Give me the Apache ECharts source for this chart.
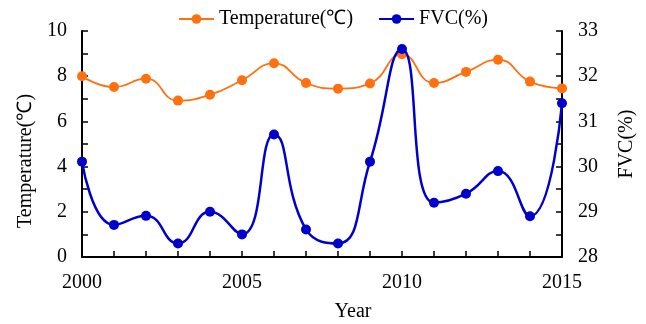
<!DOCTYPE html>
<html>
<head>
<meta charset="utf-8">
<script src="https://cdn.jsdelivr.net/npm/echarts@6/dist/echarts.min.js"></script>
<style>
  html, body { margin: 0; padding: 0; background: #fff; }
  #chart { width: 646px; height: 324px; }
</style>
</head>
<body>
<div id="chart"></div>
<script>
// Annual temperature and fractional vegetation cover, 2000–2015
const years = ['2000','2001','2002','2003','2004','2005','2006','2007',
               '2008','2009','2010','2011','2012','2013','2014','2015'];
const temperature = [8.0, 7.52, 7.89, 6.92, 7.18, 7.82, 8.57, 7.70,
                     7.45, 7.68, 8.97, 7.70, 8.19, 8.73, 7.76, 7.46];
const fvc = [30.11, 28.71, 28.91, 28.30, 29.0, 28.5, 30.71, 28.61,
             28.30, 30.11, 32.6, 29.2, 29.4, 29.9, 28.9, 31.4];

const FONT = 'Liberation Serif';
const FS = 20;
const ORANGE = '#FF7010';
const BLUE = '#0000CD';

const axisLineStyle = { lineStyle: { color: '#000', width: 2 } };
const tickStyle = { inside: true, length: 6, lineStyle: { color: '#000', width: 1.5 } };
const minorTickStyle = { show: true, splitNumber: 2, length: 6, lineStyle: { color: '#000', width: 1.5 } };
const labelStyle = { fontFamily: FONT, fontSize: FS, color: '#000' };

const chart = echarts.init(document.getElementById('chart'), null, { renderer: 'canvas' });
chart.setOption({
  animation: false,
  backgroundColor: '#fff',
  textStyle: { fontFamily: FONT },
  legend: {
    left: 178, top: 9, padding: 0,
    itemWidth: 35, itemHeight: 12, itemGap: 25,
    textStyle: { fontFamily: FONT, fontSize: FS, color: '#000' },
    data: ['Temperature(℃)', 'FVC(%)']
  },
  grid: { left: 82, right: 84, top: 31, bottom: 67, containLabel: false, outerBoundsMode: 'none' },
  xAxis: {
    type: 'category',
    data: years,
    boundaryGap: false,
    name: 'Year',
    nameLocation: 'middle',
    nameGap: 45,
    nameTextStyle: { fontFamily: FONT, fontSize: FS, color: '#000', padding: [0, 0, 0, 62] },
    axisLine: axisLineStyle,
    axisTick: Object.assign({ interval: 0, alignWithLabel: true }, tickStyle),
    axisLabel: Object.assign({ interval: 4, margin: 16 }, labelStyle),
    splitLine: { show: false }
  },
  yAxis: [
    {
      type: 'value', min: 0, max: 10, interval: 2,
      name: 'Temperature(℃)',
      nameLocation: 'middle', nameRotate: 90, nameGap: 46,
      nameTextStyle: { fontFamily: FONT, fontSize: FS, color: '#000', padding: [0, 34, 0, 0] },
      axisLine: Object.assign({ show: true }, axisLineStyle),
      axisTick: Object.assign({ show: true }, tickStyle),
      minorTick: minorTickStyle,
      axisLabel: Object.assign({ margin: 15 }, labelStyle),
      splitLine: { show: false }
    },
    {
      type: 'value', min: 28, max: 33, interval: 1,
      name: 'FVC(%)',
      nameLocation: 'middle', nameRotate: 90, nameGap: 55,
      nameTextStyle: { fontFamily: FONT, fontSize: FS, color: '#000' },
      position: 'right',
      axisLine: Object.assign({ show: true }, axisLineStyle),
      axisTick: Object.assign({ show: true }, tickStyle),
      minorTick: minorTickStyle,
      axisLabel: Object.assign({ margin: 16 }, labelStyle),
      splitLine: { show: false }
    }
  ],
  series: [
    {
      name: 'Temperature(℃)',
      type: 'line',
      yAxisIndex: 0,
      data: temperature,
      smooth: 0.5,
      symbol: 'circle',
      symbolSize: 10,
      lineStyle: { color: ORANGE, width: 1.8 },
      itemStyle: { color: ORANGE },
      z: 2
    },
    {
      name: 'FVC(%)',
      type: 'line',
      yAxisIndex: 1,
      data: fvc,
      smooth: 0.5,
      symbol: 'circle',
      symbolSize: 10,
      lineStyle: { color: BLUE, width: 2.5 },
      itemStyle: { color: BLUE },
      z: 3
    }
  ]
});
</script>
</body>
</html>
